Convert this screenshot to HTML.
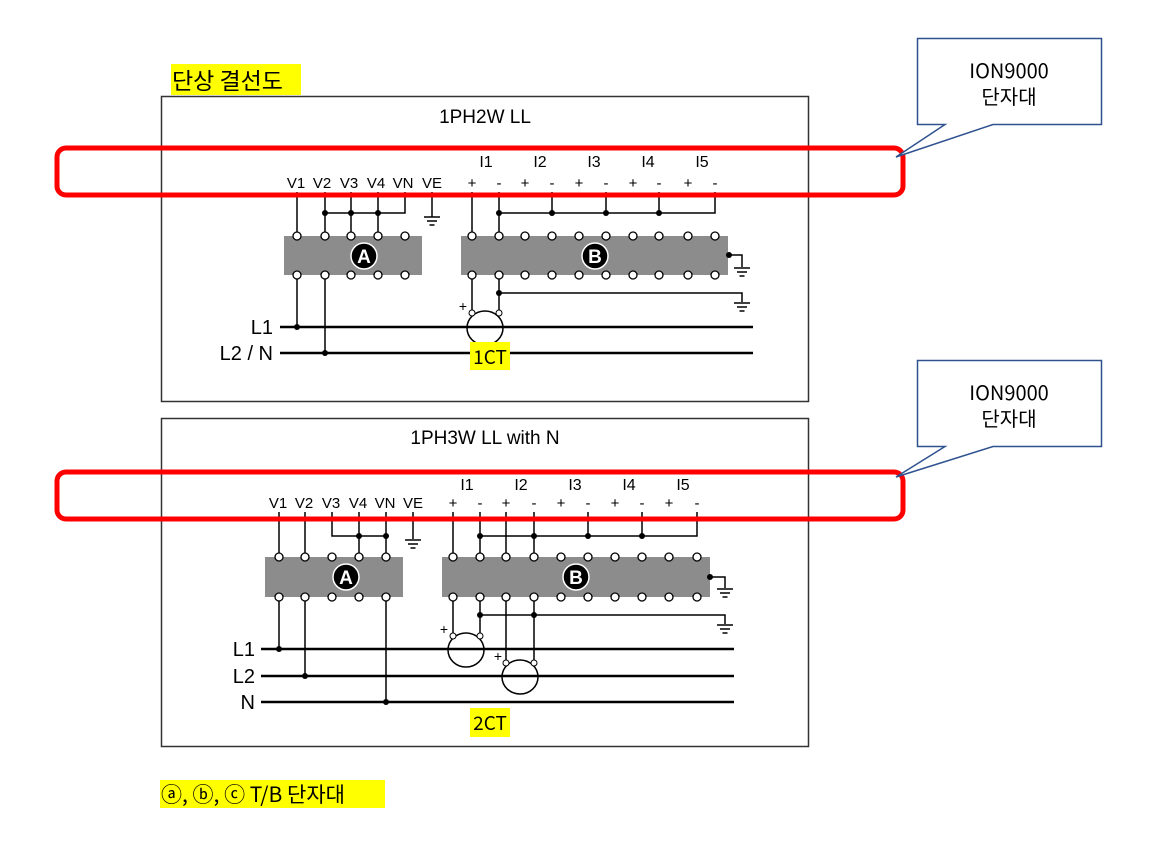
<!DOCTYPE html>
<html><head><meta charset="utf-8"><style>
html,body{margin:0;padding:0;background:#fff;}
svg{display:block;}
text{font-family:"Liberation Sans","Noto Sans CJK KR",sans-serif;}
.k{font-family:"Noto Sans CJK KR","Liberation Sans",sans-serif;}
</style></head><body>
<svg width="1152" height="843" viewBox="0 0 1152 843" xmlns="http://www.w3.org/2000/svg">
<defs>
<g id="gnd" stroke="#000" stroke-width="1.5"><line x1="-8" y1="0" x2="8" y2="0"/><line x1="-5" y1="4" x2="5" y2="4"/><line x1="-2.5" y1="8" x2="2.5" y2="8"/></g>
</defs>
<!-- header -->
<rect x="171" y="64" width="130" height="31" fill="#ffff00"/>
<text x="172" y="89" class="k" font-size="23">단상 결선도</text>
<rect x="160" y="780" width="225" height="28" fill="#ffff00"/>
<text x="161" y="802" class="k" font-size="21">ⓐ, ⓑ, ⓒ T/B 단자대</text>

<!-- ===== Diagram 1 ===== -->
<rect x="161.5" y="96.5" width="647" height="305" fill="none" stroke="#333" stroke-width="1.5"/>
<text x="485" y="123" font-size="19" text-anchor="middle">1PH2W LL</text>
<g font-size="15" text-anchor="middle">
<text x="296" y="188">V1</text><text x="322" y="188">V2</text><text x="349" y="188">V3</text><text x="376" y="188">V4</text><text x="403" y="188">VN</text><text x="432" y="188">VE</text>
<text x="486" y="167" font-size="16">I1</text><text x="540" y="167" font-size="16">I2</text><text x="594" y="167" font-size="16">I3</text><text x="648" y="167" font-size="16">I4</text><text x="702" y="167" font-size="16">I5</text>
<text x="472" y="188">+</text><text x="499" y="188">-</text><text x="525" y="188">+</text><text x="552" y="188">-</text><text x="579" y="188">+</text><text x="606" y="188">-</text><text x="633" y="188">+</text><text x="659" y="188">-</text><text x="688" y="188">+</text><text x="715" y="188">-</text>
</g>
<g stroke="#000" stroke-width="1.5" fill="none">
<line x1="297" y1="192" x2="297" y2="236"/><line x1="325" y1="192" x2="325" y2="236"/>
<line x1="351" y1="192" x2="351" y2="236"/><line x1="378" y1="192" x2="378" y2="236"/>
<polyline points="405,192 405,213 325,213"/>
<line x1="432" y1="192" x2="432" y2="217"/>
<line x1="472" y1="192" x2="472" y2="236"/><line x1="499" y1="192" x2="499" y2="236"/>
<line x1="552" y1="192" x2="552" y2="213"/><line x1="606" y1="192" x2="606" y2="213"/><line x1="659" y1="192" x2="659" y2="213"/>
<polyline points="499,213 715,213 715,192"/>
<polyline points="729,255 742,255 742,267"/>
<line x1="499" y1="275" x2="499" y2="313"/><line x1="472" y1="275" x2="472" y2="313"/>
<polyline points="499,293 742,293 742,302"/>
<line x1="297" y1="275" x2="297" y2="327"/><line x1="325" y1="275" x2="325" y2="353"/>
</g>
<g stroke="#000" stroke-width="2.5"><line x1="280" y1="327" x2="753" y2="327"/><line x1="280" y1="353" x2="753" y2="353"/></g>
<use href="#gnd" x="432" y="217"/><use href="#gnd" x="742" y="268"/><use href="#gnd" x="742" y="303"/>
<rect x="284" y="236" width="138" height="39" fill="#8c8c8c"/>
<rect x="461" y="236" width="267" height="39" fill="#8c8c8c"/>
<g fill="#fff" stroke="#000" stroke-width="1.3">
<circle cx="297" cy="236" r="4"/><circle cx="325" cy="236" r="4"/><circle cx="351" cy="236" r="4"/><circle cx="378" cy="236" r="4"/><circle cx="405" cy="236" r="4"/>
<circle cx="297" cy="275" r="4"/><circle cx="325" cy="275" r="4"/><circle cx="351" cy="275" r="4"/><circle cx="378" cy="275" r="4"/><circle cx="405" cy="275" r="4"/>
<circle cx="472" cy="236" r="4"/><circle cx="499" cy="236" r="4"/><circle cx="525" cy="236" r="4"/><circle cx="552" cy="236" r="4"/><circle cx="579" cy="236" r="4"/><circle cx="606" cy="236" r="4"/><circle cx="633" cy="236" r="4"/><circle cx="659" cy="236" r="4"/><circle cx="688" cy="236" r="4"/><circle cx="715" cy="236" r="4"/>
<circle cx="472" cy="275" r="4"/><circle cx="499" cy="275" r="4"/><circle cx="525" cy="275" r="4"/><circle cx="552" cy="275" r="4"/><circle cx="579" cy="275" r="4"/><circle cx="606" cy="275" r="4"/><circle cx="633" cy="275" r="4"/><circle cx="659" cy="275" r="4"/><circle cx="688" cy="275" r="4"/><circle cx="715" cy="275" r="4"/>
</g>
<g fill="#000"><circle cx="325" cy="213" r="3"/><circle cx="351" cy="213" r="3"/><circle cx="378" cy="213" r="3"/>
<circle cx="499" cy="213" r="3"/><circle cx="552" cy="213" r="3"/><circle cx="606" cy="213" r="3"/><circle cx="659" cy="213" r="3"/>
<circle cx="729" cy="255" r="3"/><circle cx="499" cy="293" r="3"/><circle cx="297" cy="327" r="3"/><circle cx="325" cy="353" r="3"/></g>
<circle cx="364" cy="256" r="13" fill="#000" stroke="#fff" stroke-width="1.5"/><text x="364" y="263" font-size="19" font-weight="bold" fill="#fff" text-anchor="middle">A</text>
<circle cx="595" cy="256" r="13" fill="#000" stroke="#fff" stroke-width="1.5"/><text x="595" y="263" font-size="19" font-weight="bold" fill="#fff" text-anchor="middle">B</text>
<ellipse cx="485" cy="328" rx="18" ry="17" fill="none" stroke="#000" stroke-width="1.5"/>
<circle cx="472" cy="313" r="3" fill="#fff" stroke="#000"/><circle cx="499" cy="313" r="3" fill="#fff" stroke="#000"/>
<text x="463" y="311" font-size="14" text-anchor="middle">+</text>
<text x="273" y="334" font-size="20" text-anchor="end">L1</text>
<text x="273" y="360" font-size="20" text-anchor="end">L2 / N</text>
<rect x="470" y="342" width="40" height="28" fill="#ffff00"/>
<text x="490" y="364" class="k" font-size="19" text-anchor="middle">1CT</text>
<rect x="57" y="148" width="846" height="47" rx="9" fill="none" stroke="#f00" stroke-width="5"/>

<!-- ===== Diagram 2 ===== -->
<rect x="161.5" y="418.5" width="647" height="328" fill="none" stroke="#333" stroke-width="1.5"/>
<text x="485" y="444" font-size="19" text-anchor="middle">1PH3W LL with N</text>
<g font-size="15" text-anchor="middle">
<text x="278" y="508">V1</text><text x="304" y="508">V2</text><text x="331" y="508">V3</text><text x="358" y="508">V4</text><text x="385" y="508">VN</text><text x="413" y="508">VE</text>
<text x="467" y="490" font-size="16">I1</text><text x="521" y="490" font-size="16">I2</text><text x="575" y="490" font-size="16">I3</text><text x="629" y="490" font-size="16">I4</text><text x="683" y="490" font-size="16">I5</text>
<text x="453" y="508">+</text><text x="480" y="508">-</text><text x="506" y="508">+</text><text x="534" y="508">-</text><text x="561" y="508">+</text><text x="588" y="508">-</text><text x="615" y="508">+</text><text x="642" y="508">-</text><text x="669" y="508">+</text><text x="697" y="508">-</text>
</g>
<g stroke="#000" stroke-width="1.5" fill="none">
<line x1="279" y1="512" x2="279" y2="557"/><line x1="305" y1="512" x2="305" y2="557"/>
<polyline points="332,512 332,536 386,536"/><line x1="359" y1="512" x2="359" y2="557"/>
<line x1="386" y1="512" x2="386" y2="557"/>
<line x1="413" y1="512" x2="413" y2="539"/>
<line x1="453" y1="512" x2="453" y2="557"/><line x1="480" y1="512" x2="480" y2="557"/>
<line x1="506" y1="512" x2="506" y2="557"/><line x1="534" y1="512" x2="534" y2="557"/>
<line x1="588" y1="512" x2="588" y2="536"/><line x1="642" y1="512" x2="642" y2="536"/>
<polyline points="480,536 697,536 697,512"/>
<polyline points="710,577 725,577 725,588"/>
<line x1="453" y1="597" x2="453" y2="636"/><line x1="480" y1="597" x2="480" y2="636"/>
<line x1="506" y1="597" x2="506" y2="663"/><line x1="534" y1="597" x2="534" y2="663"/>
<polyline points="480,615 725,615 725,624"/>
<line x1="279" y1="597" x2="279" y2="649"/><line x1="305" y1="597" x2="305" y2="676"/><line x1="386" y1="597" x2="386" y2="702"/>
</g>
<g stroke="#000" stroke-width="2.5"><line x1="261" y1="649" x2="734" y2="649"/><line x1="261" y1="676" x2="734" y2="676"/><line x1="261" y1="702" x2="734" y2="702"/></g>
<use href="#gnd" x="413" y="540"/><use href="#gnd" x="725" y="589"/><use href="#gnd" x="725" y="625"/>
<rect x="265" y="557" width="138" height="40" fill="#8c8c8c"/>
<rect x="442" y="557" width="268" height="40" fill="#8c8c8c"/>
<g fill="#fff" stroke="#000" stroke-width="1.3">
<circle cx="279" cy="557" r="4"/><circle cx="305" cy="557" r="4"/><circle cx="332" cy="557" r="4"/><circle cx="359" cy="557" r="4"/><circle cx="386" cy="557" r="4"/>
<circle cx="279" cy="597" r="4"/><circle cx="305" cy="597" r="4"/><circle cx="332" cy="597" r="4"/><circle cx="359" cy="597" r="4"/><circle cx="386" cy="597" r="4"/>
<circle cx="453" cy="557" r="4"/><circle cx="480" cy="557" r="4"/><circle cx="506" cy="557" r="4"/><circle cx="534" cy="557" r="4"/><circle cx="561" cy="557" r="4"/><circle cx="588" cy="557" r="4"/><circle cx="615" cy="557" r="4"/><circle cx="642" cy="557" r="4"/><circle cx="669" cy="557" r="4"/><circle cx="697" cy="557" r="4"/>
<circle cx="453" cy="597" r="4"/><circle cx="480" cy="597" r="4"/><circle cx="506" cy="597" r="4"/><circle cx="534" cy="597" r="4"/><circle cx="561" cy="597" r="4"/><circle cx="588" cy="597" r="4"/><circle cx="615" cy="597" r="4"/><circle cx="642" cy="597" r="4"/><circle cx="669" cy="597" r="4"/><circle cx="697" cy="597" r="4"/>
</g>
<g fill="#000"><circle cx="359" cy="536" r="3"/><circle cx="386" cy="536" r="3"/>
<circle cx="480" cy="536" r="3"/><circle cx="534" cy="536" r="3"/><circle cx="588" cy="536" r="3"/><circle cx="642" cy="536" r="3"/>
<circle cx="710" cy="577" r="3"/><circle cx="480" cy="615" r="3"/><circle cx="534" cy="615" r="3"/>
<circle cx="279" cy="649" r="3"/><circle cx="305" cy="676" r="3"/><circle cx="386" cy="702" r="3"/></g>
<circle cx="346" cy="577" r="13" fill="#000" stroke="#fff" stroke-width="1.5"/><text x="346" y="584" font-size="19" font-weight="bold" fill="#fff" text-anchor="middle">A</text>
<circle cx="576" cy="577" r="13" fill="#000" stroke="#fff" stroke-width="1.5"/><text x="576" y="584" font-size="19" font-weight="bold" fill="#fff" text-anchor="middle">B</text>
<ellipse cx="466" cy="650" rx="18" ry="17" fill="none" stroke="#000" stroke-width="1.5"/>
<ellipse cx="520" cy="677" rx="18" ry="17" fill="none" stroke="#000" stroke-width="1.5"/>
<circle cx="453" cy="636" r="3" fill="#fff" stroke="#000"/><circle cx="480" cy="636" r="3" fill="#fff" stroke="#000"/>
<circle cx="506" cy="663" r="3" fill="#fff" stroke="#000"/><circle cx="534" cy="663" r="3" fill="#fff" stroke="#000"/>
<text x="444" y="634" font-size="14" text-anchor="middle">+</text>
<text x="498" y="661" font-size="14" text-anchor="middle">+</text>
<text x="255" y="656" font-size="20" text-anchor="end">L1</text>
<text x="255" y="683" font-size="20" text-anchor="end">L2</text>
<text x="255" y="709" font-size="20" text-anchor="end">N</text>
<rect x="470" y="708" width="40" height="29" fill="#ffff00"/>
<text x="490" y="730" class="k" font-size="19" text-anchor="middle">2CT</text>
<rect x="57" y="472" width="846" height="47" rx="9" fill="none" stroke="#f00" stroke-width="5"/>

<!-- callouts -->
<g stroke="#2f528f" stroke-width="1.5" fill="#fff">
<path d="M917.5,38.5 H1101.5 V124.5 H993 L896,157 L945,124.5 H917.5 Z"/>
<path d="M917.5,360.5 H1101.5 V446.5 H993 L896,477 L945,446.5 H917.5 Z"/>
</g>
<g font-size="20" text-anchor="middle">
<text x="1009" y="78" class="k">ION9000</text><text x="1009" y="104" class="k">단자대</text>
<text x="1009" y="400" class="k">ION9000</text><text x="1009" y="426" class="k">단자대</text>
</g>
</svg>
</body></html>
